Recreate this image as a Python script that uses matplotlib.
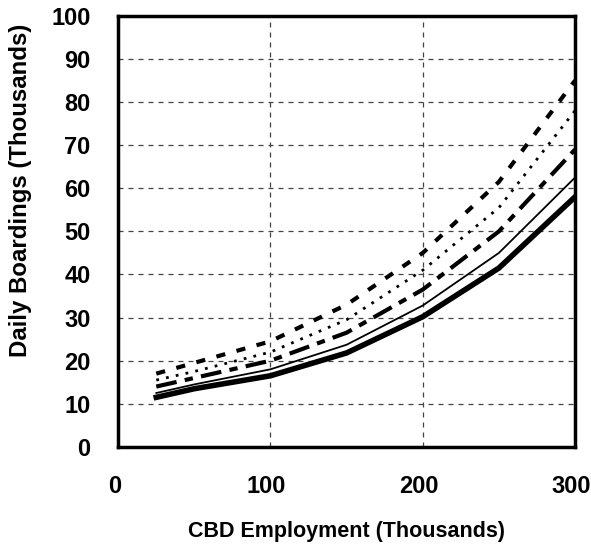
import matplotlib
matplotlib.use("Agg")
import matplotlib.pyplot as plt
import matplotlib.transforms as mtransforms

plt.rcParams['font.family'] = ['Liberation Sans', 'DejaVu Sans']
plt.rcParams['font.weight'] = 'bold'

# CBD employment (thousands)
employment = [25, 50, 100, 150, 200, 250, 300]

# daily boardings (thousands), one curve per scenario
thick_solid = [11.5, 13.5, 16.5, 21.8, 30.2, 41.5, 58.0]
thin_solid = [12.5, 14.5, 18.0, 23.7, 32.8, 45.0, 62.5]
long_dash = [14.0, 16.0, 20.0, 26.5, 36.5, 50.0, 69.0]
dotted = [15.5, 17.5, 22.0, 29.5, 41.0, 55.5, 78.0]
short_dash = [17.0, 19.5, 24.5, 33.0, 45.0, 61.5, 85.0]

x_ticks = [0, 100, 200, 300]
y_ticks = list(range(0, 101, 10))

fig = plt.figure(figsize=(5.91, 5.47), dpi=100)
ax = fig.add_axes([0.2, 0.183, 0.773, 0.788])

ax.plot(employment, short_dash, color="black", lw=3, dashes=(2.2, 2.8))
ax.plot(employment, dotted, color="black", lw=2, dashes=(1, 2.6))
ax.plot(employment, long_dash, color="black", lw=3, dashes=(5, 2, 2, 2))
ax.plot(employment, thin_solid, color="black", lw=1.3)
ax.plot(employment, thick_solid, color="black", lw=4)

ax.set_xlim(0, 300)
ax.set_ylim(0, 100)
ax.set_xticks(x_ticks)
ax.set_yticks(y_ticks)
ax.grid(True, color="#444444", lw=0.9, linestyle=(0, (4, 4)))
ax.tick_params(length=0, labelsize=17)
ax.tick_params(axis="x", pad=20)
ax.tick_params(axis="y", pad=20)
for s in ax.spines.values():
    s.set_linewidth(2.5)

# tick labels in the reference sit a few pixels left of their gridlines
shift = mtransforms.ScaledTranslation(-4 / 100, 0, fig.dpi_scale_trans)
for lbl in ax.get_xticklabels():
    lbl.set_transform(lbl.get_transform() + shift)

ax.set_xlabel("CBD Employment (Thousands)", fontsize=15.5, fontweight="bold")
ax.set_ylabel("Daily Boardings (Thousands)", fontsize=17.3, fontweight="bold")
ax.xaxis.set_label_coords(0.5, -0.172)
ax.yaxis.set_label_coords(-0.188, 0.596)

fig.savefig("out.png", dpi=100)
